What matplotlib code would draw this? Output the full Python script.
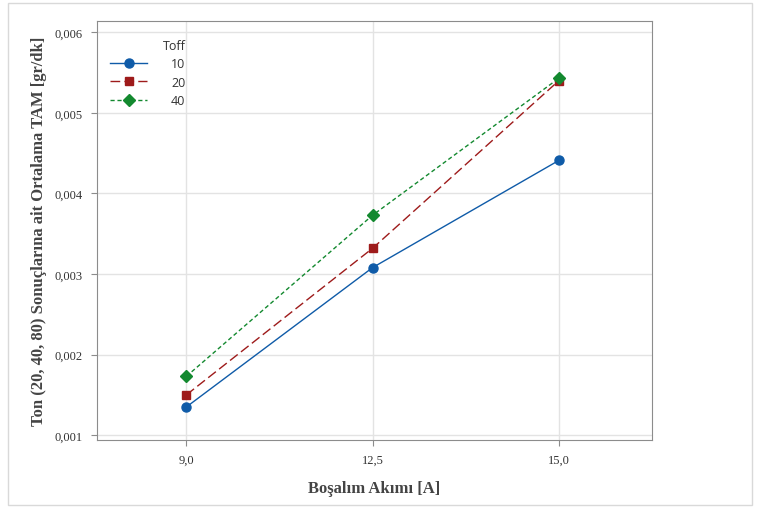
import numpy as np
import matplotlib.pyplot as plt
from matplotlib.patches import Rectangle
from matplotlib.ticker import FuncFormatter

# Veriler
akim = ['9,0', '12,5', '15,0']
toff_10 = [0.00135, 0.00308, 0.00441]
toff_20 = [0.00150, 0.00332, 0.00540]
toff_40 = [0.00173, 0.00373, 0.00543]
y_ticks = [0.001, 0.002, 0.003, 0.004, 0.005, 0.006]

fig = plt.figure(figsize=(7.6, 5.1), dpi=100)
ax = fig.add_axes([97 / 760, 69 / 510, 555 / 760, 419 / 510])

# Dış çerçeve
fig.patches.append(Rectangle((8 / 760, 4 / 510), 744 / 760, 502 / 510, transform=fig.transFigure,
                             fill=False, edgecolor='#d9d9d9', linewidth=1))

x = np.arange(len(akim))
ax.plot(x, toff_10, color='#0F5BA8', linewidth=1, marker='o', markersize=6.5, label='10')
ax.plot(x, toff_20, color='#9E1B1B', linewidth=1, linestyle=(0, (7, 3)), marker='s', markersize=6, label='20')
ax.plot(x, toff_40, color='#13892F', linewidth=1, linestyle=(0, (3, 2)), marker='D', markersize=6, label='40')

ax.set_xlim(-0.48, 2.5)
ax.set_ylim(0.00094, 0.00614)
ax.set_xticks(x)
ax.set_xticklabels(akim, family='Liberation Serif', fontsize=9, color='#333333')
ax.set_yticks(y_ticks)
ax.yaxis.set_major_formatter(FuncFormatter(lambda v, p: ('%.3f' % v).replace('.', ',')))
for t in ax.get_yticklabels():
    t.set_family('Liberation Serif')
    t.set_fontsize(9)
    t.set_color('#333333')

ax.grid(True, color='#e3e3e3', linewidth=1)
ax.set_axisbelow(True)
for s in ax.spines.values():
    s.set_color('#8c8c8c')
ax.tick_params(length=4, color='#8c8c8c', pad=6)

ax.set_xlabel('Boşalım Akımı [A]', family='Liberation Serif', fontsize=12, fontweight='bold',
              color='#444444', labelpad=10)
ax.set_ylabel('Ton (20, 40, 80) Sonuçlarına ait Ortalama TAM [gr/dk]', family='Liberation Serif',
              fontsize=12, fontweight='bold', color='#444444', labelpad=6)

leg = ax.legend(title='Toff', loc='upper left', bbox_to_anchor=(0.003, 0.985), frameon=False,
                handlelength=3.0, labelspacing=0.45, handletextpad=1.9, alignment='right',
                prop={'family': 'Open Sans', 'size': 9})
leg.get_title().set_family('Open Sans')
leg.get_title().set_fontsize(9)
leg.get_title().set_color('#333333')
for t in leg.get_texts():
    t.set_color('#333333')

fig.savefig('out.png', dpi=100)
